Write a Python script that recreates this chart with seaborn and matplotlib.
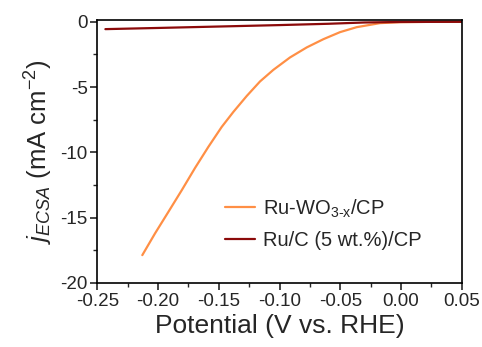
import numpy as np
import pandas as pd
import matplotlib
matplotlib.use("Agg")
import matplotlib.pyplot as plt
from matplotlib.ticker import MultipleLocator, FuncFormatter
import seaborn as sns

sns.set_style("white")
plt.rcParams['font.family'] = ['Liberation Sans', 'DejaVu Sans']
plt.rcParams['mathtext.fontset'] = 'custom'
plt.rcParams['mathtext.rm'] = 'Liberation Sans'
plt.rcParams['mathtext.it'] = 'Liberation Sans:italic'
plt.rcParams['mathtext.bf'] = 'Liberation Sans:bold'

# Data
ruwo_x = [-0.2130, -0.2025, -0.1915, -0.1805, -0.1696, -0.1586, -0.1476, -0.1380,
          -0.1270, -0.1161, -0.1051, -0.0914, -0.0776, -0.0639, -0.0502, -0.0365,
          -0.0173, -0.0008, 0.025, 0.05]
ruwo_y = [-17.88, -16.21, -14.56, -12.90, -11.20, -9.58, -8.05, -6.90,
          -5.68, -4.57, -3.68, -2.73, -1.96, -1.33, -0.79, -0.41,
          -0.10, -0.03, 0.0, 0.0]
ruc_x = [-0.2434, -0.20, -0.15, -0.10, -0.06, -0.03, 0.0, 0.05]
ruc_y = [-0.56, -0.47, -0.36, -0.25, -0.15, -0.05, -0.01, 0.0]

lab1 = "Ru-WO$_{\\text{3-x}}$/CP"
lab2 = "Ru/C (5 wt.%)/CP"

df = pd.concat([
    pd.DataFrame({"x": ruwo_x, "y": ruwo_y, "s": lab1}),
    pd.DataFrame({"x": ruc_x, "y": ruc_y, "s": lab2}),
])

fig = plt.figure(figsize=(4.82, 3.47), dpi=100)
ax = fig.add_axes([0.202, 0.185, 0.756, 0.757])
sns.lineplot(data=df, x="x", y="y", hue="s", sort=False, estimator=None,
             palette={lab1: "#FF8F45", lab2: "#8B0A0A"}, linewidth=1.6, ax=ax)

ax.set_xlim(-0.25, 0.05)
ax.set_ylim(-20, 0.13)
ax.xaxis.set_major_locator(MultipleLocator(0.05))
ax.xaxis.set_minor_locator(MultipleLocator(0.025))
ax.yaxis.set_major_locator(MultipleLocator(5))
ax.yaxis.set_minor_locator(MultipleLocator(2.5))
ax.tick_params(axis='both', which='major', direction='out', length=5, width=1.2,
               labelsize=13.5, pad=2, bottom=True, left=True)
ax.tick_params(axis='both', which='minor', direction='out', length=3, width=1.0,
               bottom=True, left=True)
ax.xaxis.set_major_formatter(FuncFormatter(lambda v, p: f"{v:.2f}"))
ax.yaxis.set_major_formatter(FuncFormatter(lambda v, p: f"{v:g}"))
for sp in ax.spines.values():
    sp.set_color("black")
    sp.set_linewidth(1.2)

ax.set_xlabel("Potential (V vs. RHE)", fontsize=19, labelpad=3)
ax.set_ylabel("$j_{\\mathit{ECSA}}$ (mA cm$^{-2}$)", fontsize=18.5, labelpad=4)

leg = ax.legend(loc="upper left", bbox_to_anchor=(0.350, 0.325), frameon=False,
                fontsize=14.5, handlelength=1.5, handletextpad=0.38, labelspacing=0.55,
                borderpad=0, borderaxespad=0)
leg.set_title(None)

fig.savefig("out.png", dpi=100)
